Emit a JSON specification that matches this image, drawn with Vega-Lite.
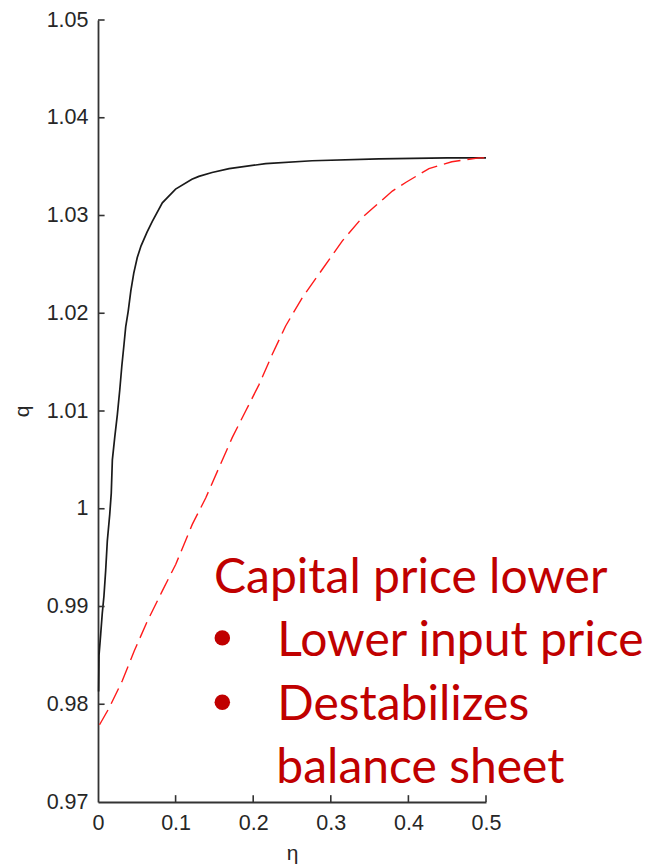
{
  "$schema": "https://vega.github.io/schema/vega-lite/v6.json",
  "width": 388,
  "height": 782,
  "padding": {"left": 11, "top": 9, "right": 0, "bottom": 0},
  "background": "white",
  "config": {
    "view": {"stroke": null},
    "axis": {
      "labelFont": "Liberation Sans",
      "titleFont": "Liberation Sans",
      "labelFontSize": 21.5,
      "titleFontSize": 21,
      "titleFontWeight": "normal",
      "labelColor": "#262626",
      "titleColor": "#262626",
      "domainColor": "#333333",
      "domainWidth": 1.8,
      "ticks": false,
      "grid": false
    }
  },
  "datasets": {
    "black": [
      {"eta": 0.0008, "q": 0.9813}, {"eta": 0.0013, "q": 0.985}, {"eta": 0.0035, "q": 0.9872},
      {"eta": 0.0055, "q": 0.9893}, {"eta": 0.0077, "q": 0.9911}, {"eta": 0.0099, "q": 0.9937},
      {"eta": 0.012, "q": 0.9967}, {"eta": 0.0151, "q": 0.9994}, {"eta": 0.0171, "q": 1.0016},
      {"eta": 0.0185, "q": 1.005}, {"eta": 0.0217, "q": 1.0074}, {"eta": 0.0249, "q": 1.0096},
      {"eta": 0.0281, "q": 1.0122}, {"eta": 0.0307, "q": 1.0146}, {"eta": 0.0335, "q": 1.0168},
      {"eta": 0.0357, "q": 1.0186}, {"eta": 0.0389, "q": 1.0202}, {"eta": 0.0423, "q": 1.0223},
      {"eta": 0.0461, "q": 1.0241}, {"eta": 0.0506, "q": 1.0257}, {"eta": 0.0555, "q": 1.0269},
      {"eta": 0.0632, "q": 1.0283}, {"eta": 0.070, "q": 1.0294}, {"eta": 0.0829, "q": 1.0313},
      {"eta": 0.100, "q": 1.0327}, {"eta": 0.121, "q": 1.0337}, {"eta": 0.130, "q": 1.034},
      {"eta": 0.147, "q": 1.0344}, {"eta": 0.169, "q": 1.0348}, {"eta": 0.216, "q": 1.0353},
      {"eta": 0.276, "q": 1.0356}, {"eta": 0.362, "q": 1.0358}, {"eta": 0.45, "q": 1.0359},
      {"eta": 0.5, "q": 1.0359}
    ],
    "red": [
      {"eta": 0.002, "q": 0.9779}, {"eta": 0.0142, "q": 0.9796}, {"eta": 0.0313, "q": 0.9824},
      {"eta": 0.0464, "q": 0.9854}, {"eta": 0.0636, "q": 0.9885}, {"eta": 0.0829, "q": 0.9916},
      {"eta": 0.1001, "q": 0.9943}, {"eta": 0.1215, "q": 0.9984}, {"eta": 0.1388, "q": 1.0011},
      {"eta": 0.1559, "q": 1.0042}, {"eta": 0.1731, "q": 1.0073}, {"eta": 0.1903, "q": 1.01},
      {"eta": 0.2075, "q": 1.0127}, {"eta": 0.2246, "q": 1.0158}, {"eta": 0.2418, "q": 1.0187},
      {"eta": 0.2633, "q": 1.0216}, {"eta": 0.2891, "q": 1.0245}, {"eta": 0.3149, "q": 1.0274},
      {"eta": 0.3406, "q": 1.0298}, {"eta": 0.3621, "q": 1.0313}, {"eta": 0.3793, "q": 1.0325},
      {"eta": 0.397, "q": 1.0334}, {"eta": 0.4265, "q": 1.0348}, {"eta": 0.456, "q": 1.0355},
      {"eta": 0.491, "q": 1.0359}, {"eta": 0.5, "q": 1.0359}
    ],
    "notes": [
      {"eta": 0.1495, "q": 0.99139, "label": "Capital price lower"},
      {"eta": 0.231, "q": 0.98491, "label": "Lower input price"},
      {"eta": 0.231, "q": 0.97843, "label": "Destabilizes"},
      {"eta": 0.2298, "q": 0.97194, "label": "balance sheet"}
    ],
    "bullets": [
      {"eta": 0.1602, "q": 0.98679},
      {"eta": 0.1602, "q": 0.9802}
    ],
    "xticks": [{"eta": 0.1}, {"eta": 0.2}, {"eta": 0.3}, {"eta": 0.4}, {"eta": 0.5}],
    "yticks": [{"q": 0.98}, {"q": 0.99}, {"q": 1.0}, {"q": 1.01}, {"q": 1.02}, {"q": 1.03}, {"q": 1.04}, {"q": 1.05}]
  },
  "layer": [
    {
      "data": {"name": "black"},
      "mark": {"type": "line", "color": "#1a1a1a", "strokeWidth": 1.7, "clip": false},
      "encoding": {
        "x": {"field": "eta", "type": "quantitative",
              "scale": {"domain": [0, 0.5], "nice": false, "zero": false},
              "axis": {"title": "η", "values": [0, 0.1, 0.2, 0.3, 0.4, 0.5], "format": "~g",
                       "labelPadding": 10, "titlePadding": 9, "labelFlush": false}},
        "y": {"field": "q", "type": "quantitative",
              "scale": {"domain": [0.97, 1.05], "nice": false, "zero": false},
              "axis": {"title": "q", "values": [0.97, 0.98, 0.99, 1, 1.01, 1.02, 1.03, 1.04, 1.05], "format": "~g",
                       "labelPadding": 10, "titlePadding": 14, "labelFlush": false}}
      }
    },
    {
      "data": {"name": "xticks"},
      "mark": {"type": "rule", "color": "#333333", "strokeWidth": 1.6},
      "encoding": {
        "x": {"field": "eta", "type": "quantitative"},
        "y": {"datum": 0.97},
        "y2": {"datum": 0.9707}
      }
    },
    {
      "data": {"name": "yticks"},
      "mark": {"type": "rule", "color": "#333333", "strokeWidth": 1.6},
      "encoding": {
        "y": {"field": "q", "type": "quantitative"},
        "x": {"datum": 0},
        "x2": {"datum": 0.0085}
      }
    },
    {
      "data": {"name": "red"},
      "mark": {"type": "line", "color": "#ff1a1a", "strokeWidth": 1.4, "strokeDash": [17, 7], "clip": false},
      "encoding": {
        "x": {"field": "eta", "type": "quantitative"},
        "y": {"field": "q", "type": "quantitative"}
      }
    },
    {
      "data": {"name": "bullets"},
      "mark": {"type": "point", "shape": "circle", "filled": true, "opacity": 1, "color": "#c00000", "size": 240},
      "encoding": {
        "x": {"field": "eta", "type": "quantitative"},
        "y": {"field": "q", "type": "quantitative"}
      }
    },
    {
      "data": {"name": "notes"},
      "mark": {"type": "text", "align": "left", "baseline": "alphabetic", "font": "Lato", "fontSize": 48, "color": "#c00000"},
      "encoding": {
        "x": {"field": "eta", "type": "quantitative"},
        "y": {"field": "q", "type": "quantitative"},
        "text": {"field": "label", "type": "nominal"}
      }
    }
  ]
}
